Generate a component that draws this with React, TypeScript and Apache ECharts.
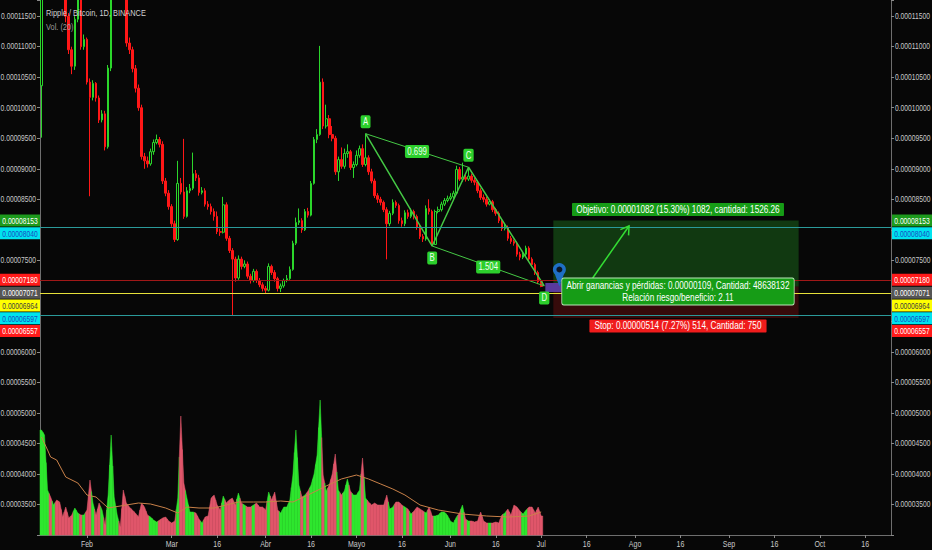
import React, { useEffect, useRef } from "react";
import * as echarts from "echarts";

const FONT = '"Liberation Sans", Arial, sans-serif';
const BG = "#070707";
const SQUEEZE = 0.78; // the reference's texts are horizontally condensed

// ---- categories (daily, Binance XRP/BTC) ----
const START = Date.UTC(2018, 0, 17);
const DAY_COUNT = 281;
const categories: string[] = Array.from({ length: DAY_COUNT }, (_, i) =>
  new Date(START + i * 86400000).toISOString().slice(0, 10)
);

const xTickLabels: [string, string][] = [
  ["2018-02-01", "Feb"], ["2018-03-01", "Mar"], ["2018-03-16", "16"], ["2018-04-01", "Abr"],
  ["2018-04-16", "16"], ["2018-05-01", "Mayo"], ["2018-05-16", "16"], ["2018-06-01", "Jun"],
  ["2018-06-16", "16"], ["2018-07-01", "Jul"], ["2018-07-16", "16"], ["2018-08-01", "Ago"],
  ["2018-08-16", "16"], ["2018-09-01", "Sep"], ["2018-09-16", "16"], ["2018-10-01", "Oct"],
  ["2018-10-16", "16"],
];

// price axis in satoshi (1e-8 BTC)
const PRICE_MIN = 3000;
const PRICE_MAX = 11765;
const PRICE_STEP = 500;
const priceTicks: number[] = [3500, 4000, 4500, 5000, 5500, 6000, 6500, 7000, 7500, 8000, 8500, 9000, 9500, 10000, 10500, 11000, 11500];

// [open, close, low, high] in satoshi
const candles: number[][] = [
  [10360,12150,9510,12300],[12150,12500,12000,12700],[12500,12900,12400,13100],[12900,12600,12400,13000],
  [12600,12750,12500,12900],[12750,12400,12250,12800],[12400,12300,12150,12500],[12300,12050,11950,12400],
  [12050,11500,11400,12100],[11500,10950,10880,11550],
  [10950,10680,10550,11000],[10680,11450,10620,11500],[11450,11900,11400,12050],[11900,11000,10950,11950],
  [11000,11120,10950,11200],[11120,10420,10380,11150],[10420,10170,8550,10480],[10170,10400,10120,10450],
  [10400,10160,10100,10420],[10160,9800,9750,10200],
  [9800,9900,9760,9960],[9900,9360,9300,9950],[9360,10650,9330,10700],[10650,11900,10600,12000],
  [11900,12200,11850,12400],[12200,12400,12100,12600],[12400,12300,12150,12500],[12300,12100,11950,12400],
  [12100,11060,11000,12150],[11060,10950,10880,11150],
  [10950,10640,10580,11000],[10640,10320,10250,10700],[10320,10000,9950,10380],[10000,9200,9150,10050],
  [9200,9130,9000,9260],[9130,9080,9020,9200],[9080,9280,9050,9330],[9280,9430,9230,9480],
  [9430,9480,9400,9560],[9480,9400,9350,9520],
  [9400,8800,8750,9450],[8800,8600,8550,8850],[8600,8380,8330,8650],[8380,8100,8050,8420],
  [8100,7840,7800,8150],[7840,8760,7820,9130],[8760,8620,8580,8850],[8620,8220,8180,9490],
  [8220,8640,8200,8700],[8640,8680,8600,8750],
  [8680,8920,8650,9265],[8920,8850,8800,8980],[8850,8610,8560,8900],[8610,8640,8580,8700],
  [8640,8420,8380,8680],[8420,8380,8330,8470],[8380,8300,8250,8430],[8300,8220,8150,8350],
  [8220,7970,7930,8300],[7970,7960,7900,8020],
  [7960,8410,7940,8540],[8410,7860,7820,8450],[7860,7660,7620,7900],[7660,7520,6597,7700],
  [7520,7210,7150,7560],[7210,7520,7180,7580],[7520,7400,7350,7560],[7400,7440,7370,7500],
  [7440,7240,7200,7480],[7240,7170,7120,7280],
  [7170,7320,7140,7360],[7320,7170,7130,7350],[7170,7100,7060,7210],[7100,7040,6990,7140],
  [7040,7010,6960,7080],[7010,7400,6990,7450],[7400,7300,7260,7430],[7300,7200,7150,7340],
  [7200,7040,6990,7230],[7040,7080,6980,7120],
  [7080,7170,7050,7200],[7170,7200,7140,7260],[7200,7350,7180,7400],[7350,7780,7330,7820],
  [7780,8120,7750,8200],[8120,8150,8080,8350],[8150,8000,7950,8190],[8000,8300,7980,8340],
  [8300,8240,8200,8360],[8240,8760,8220,8800],
  [8760,9480,8740,9520],[9480,9560,9420,9650],[9560,10420,9540,11013],[10420,9700,9650,10480],
  [9700,9820,9660,10050],[9820,9560,9500,9880],[9560,9500,9450,9700],[9500,8950,8900,9540],
  [8950,9150,8800,9200],[9150,9040,9000,9350],
  [9040,9250,9000,9330],[9250,9280,9180,9400],[9280,9020,8980,9310],[9020,9070,8850,9120],
  [9070,9220,9040,9300],[9220,9330,9180,9380],[9330,9070,9030,9400],[9070,9180,9040,9575],
  [9180,8950,8900,9220],[8950,8800,8760,9000],
  [8800,8560,8520,8840],[8560,8500,8440,8600],[8500,8450,8400,8540],[8450,8330,8290,8480],
  [8330,8100,7516,8370],[8100,8270,8060,8310],[8270,8450,8240,8500],[8450,8400,8360,8480],
  [8400,8150,8100,8430],[8150,8100,8050,8200],
  [8100,8280,8060,8320],[8280,8220,8180,8330],[8220,8300,8190,8350],[8300,8220,8170,8330],
  [8220,8040,8000,8250],[8040,7890,7850,8080],[7890,7850,7800,7930],[7850,8350,7820,8400],
  [8350,8300,8250,8500],[8300,7760,7734,8330],
  [7760,8300,7750,8330],[8300,8330,8270,8380],[8330,8420,8300,8460],[8420,8480,8390,8520],
  [8480,8510,8450,8560],[8510,8540,8480,8600],[8540,8600,8510,8640],[8600,8990,8580,9050],
  [8990,8830,8800,9030],[8830,8860,8790,9100],
  [8860,8830,8790,8900],[8830,8880,8800,9025],[8880,8810,8770,8920],[8810,8780,8730,8850],
  [8780,8640,8600,8810],[8640,8530,8490,8680],[8530,8500,8450,8580],[8500,8420,8380,8540],
  [8420,8460,8400,8500],[8460,8330,8290,8490],
  [8330,8270,8230,8360],[8270,8150,8110,8300],[8150,8020,7980,8180],[8020,8040,7990,8110],
  [8040,7860,7820,8070],[7860,7810,7770,7900],[7810,7780,7740,7840],[7780,7600,7560,7810],
  [7600,7550,7500,7640],[7550,7600,7520,7640],
  [7600,7700,7570,7740],[7700,7520,7480,7730],[7520,7430,7390,7550],[7430,7300,7260,7460],
  [7300,7150,7110,7330],[7150,7071,7060,7180],
];

// volume (estimated, x100k XRP)
const volumes: number[] = [
  105,100,45,38,30,35,33,18,28,17, 20,27,22,20,20,25,55,32,20,32,
  25,10,40,100,38,20,8,45,32,28, 25,22,18,32,28,20,18,15,13,15,
  17,18,14,12,14,37,119,52,37,23, 23,22,16,12,18,19,37,40,30,25,
  39,32,35,37,30,42,32,30,28,28, 30,32,28,28,25,43,35,43,25,22,
  28,28,35,60,105,50,38,40,44,50, 61,80,135,60,44,50,61,81,45,40,
  44,56,44,40,40,45,77,37,33,30, 32,30,
  30,30,40,26,28,33,33,30,28,26,21,24,28,26, 24,
  22,28,19,19,20,23,23,20,14,12,18,22,30,16,14,14,13,14,23,14,12,12,12,13,12,20,
  22,26,20,30,28,24,21,25,28,28,22,28,19,
];
const VOLUME_AXIS_MAX = 535;

// Vol MA(20): [dayIndex, value]
const volumeMA: number[][] = [
  [0,98],[2,85],[3,78],[5,75],[8,58],[12,52],[15,40],[18,38],[22,27],[24,28],[28,30],[32,32],
  [36,31],[41,27],[45,22],[48,28],[52,27],[57,27],[61,30],[65,33],[70,33],[74,33],[79,34],
  [83,33],[88,40],[94,49],[99,56],[104,60],[108,56],[112,51],[116,46],[120,40],[125,30],
  [131,25],[139,21],[147,19],[154,18],[161,19],[165,23],
];

const priceTags = [
  { value: 8153, bg: "#1d9a1d", fg: "#ffffff" },
  { value: 8040, bg: "#00e3ee", fg: "#1a4bc4" },
  { value: 7180, bg: "#ff1a1a", fg: "#ffffff" },
  { value: 7071, bg: "#555555", fg: "#ffffff" },
  { value: 6964, bg: "#ffff00", fg: "#404040" },
  { value: 6597, bg: "#00e3ee", fg: "#1a4bc4" },
  { value: 6557, bg: "#ff1a1a", fg: "#ffffff" },
];

const hLines = [
  { value: 8040, color: "#2a9a9a" },
  { value: 7180, color: "#a01818" },
  { value: 6964, color: "#e6e03a" },
  { value: 6597, color: "#2a9a9a" },
];

const patternPoints = [
  { name: "A", idx: 107, value: 9575, below: false },
  { name: "B", idx: 129, value: 7734, below: true },
  { name: "C", idx: 141, value: 9025, below: false },
  { name: "D", idx: 166, value: 7080, below: true },
];
const patternRatios = [
  { text: "0.699", from: 0, to: 2 },
  { text: "1.504", from: 1, to: 3 },
];

const position = { startIdx: 169, endIdx: 250, entry: 7071, target: 8153, stop: 6557 };
const positionTexts = {
  target: "Objetivo: 0.00001082 (15.30%) 1082, cantidad: 1526.26",
  open: "Abrir ganancias y pérdidas: 0.00000109, Cantidad: 48638132",
  ratio: "Relación riesgo/beneficio: 2.11",
  stop: "Stop: 0.00000514 (7.27%) 514, Cantidad: 750",
};
const arrowFrom = [182, 7211];
const arrowTo = [194, 8063];
const pinTip = [171, 7071];

const titleText = "Ripple / Bitcoin, 1D, BINANCE";
const volText = "Vol. (20)";

const tickMap = new Map<string, string>(xTickLabels);
const tickFn = (_i: number, v: string) => tickMap.has(v);
const fmtPrice = (v: number) => (v / 1e8).toFixed(8);

function buildOption(): any {
  const yBase = {
    type: "value",
    min: PRICE_MIN,
    max: PRICE_MAX,
    interval: PRICE_STEP,
    splitLine: { show: false },
    axisLine: { show: true, lineStyle: { color: "#6e6e6e" } },
    axisTick: { show: true, length: 3, lineStyle: { color: "#8a8a8a" } },
    axisLabel: { show: false },
  };
  const volData = volumes.map((v, i) => [
    i, v, i > 0 ? volumes[i - 1] : v, i < volumes.length - 1 ? volumes[i + 1] : v,
    candles[i][1] >= candles[i][0] ? 1 : 0,
  ]);
  const pAB = patternPoints.map((p) => [p.idx, p.value]);
  return {
    animation: false,
    backgroundColor: BG,
    grid: { left: 40, right: 41, top: 0, bottom: 15, containLabel: false, outerBoundsMode: "none" },
    xAxis: {
      type: "category",
      data: categories,
      boundaryGap: true,
      axisLine: { lineStyle: { color: "#6e6e6e" } },
      axisTick: { show: true, interval: tickFn, length: 3, alignWithLabel: true, lineStyle: { color: "#8a8a8a" } },
      axisLabel: { show: false },
      splitLine: { show: false },
    },
    yAxis: [
      { ...yBase, position: "left" },
      { ...yBase, position: "right" },
      { type: "value", min: 0, max: VOLUME_AXIS_MAX, show: false },
    ],
    series: [
      {
        type: "custom",
        name: "Vol",
        yAxisIndex: 2,
        encode: { x: 0, y: 1 },
        data: volData,
        renderItem: (_p: any, api: any) => {
          const i = api.value(0);
          const v = api.value(1);
          const pv = api.value(2);
          const nv = api.value(3);
          const up = api.value(4);
          const c = api.coord([i, v]);
          const base = api.coord([i, 0])[1];
          const w = api.size([1, 0])[0];
          const yl = api.coord([i, (pv + v) / 2])[1];
          const yr = api.coord([i, (nv + v) / 2])[1];
          const xl = c[0] - w / 2;
          const xr = c[0] + w / 2;
          const col = up ? "#2ee62e" : "#e0566a";
          return {
            type: "polygon",
            shape: { points: [[xl, base], [xl, yl], [c[0], c[1]], [xr, yr], [xr, base]] },
            style: { fill: col, stroke: col, lineWidth: 0.5 },
          };
        },
        z: 1,
      },
      {
        type: "line",
        name: "VolMA",
        yAxisIndex: 2,
        data: volumeMA,
        symbol: "none",
        lineStyle: { color: "#c98149", width: 1 },
        z: 2,
      },
      {
        type: "candlestick",
        name: "XRPBTC",
        yAxisIndex: 0,
        data: candles,
        barWidth: "70%",
        clip: true,
        itemStyle: {
          color: BG,
          color0: "#ff1717",
          borderColor: "#2bd62b",
          borderColor0: "#ff1717",
          borderWidth: 1,
        },
        markArea: {
          silent: true,
          data: [
            [
              { xAxis: categories[position.startIdx], yAxis: position.entry, itemStyle: { color: "rgba(38,160,38,0.33)" } },
              { xAxis: categories[position.endIdx], yAxis: position.target },
            ],
            [
              { xAxis: categories[position.startIdx], yAxis: position.stop, itemStyle: { color: "rgba(190,25,25,0.26)" } },
              { xAxis: categories[position.endIdx], yAxis: position.entry },
            ],
          ],
        },
        z: 3,
      },
      {
        type: "line",
        name: "ABCD",
        yAxisIndex: 0,
        data: pAB,
        symbol: "none",
        lineStyle: { color: "#45c845", width: 1.5 },
        z: 4,
      },
      ...patternRatios.map((r) => ({
        type: "line",
        yAxisIndex: 0,
        data: [pAB[r.from], pAB[r.to]],
        symbol: "none",
        lineStyle: { color: "#45c845", width: 1 },
        z: 4,
      })),
    ],
  };
}

function buildGraphics(chart: any): any[] {
  const toPx = (i: number, v: number): number[] => chart.convertToPixel({ seriesIndex: 2 }, [i, v]);
  const g: any[] = [];
  const txt = (x: number, y: number, text: string, extra: any = {}, z = 100, sx = SQUEEZE) => ({
    type: "text",
    x,
    y,
    z,
    scaleX: sx,
    style: { text, fontFamily: FONT, fontSize: 9, fill: "#ffffff", align: "center", verticalAlign: "middle", ...extra },
  });

  // horizontal level lines across the plot
  hLines.forEach((h) => {
    const y = Math.round(toPx(0, h.value)[1]) + 0.5;
    g.push({ type: "line", z: 5, silent: true, shape: { x1: 40, y1: y, x2: 891, y2: y }, style: { stroke: h.color, lineWidth: 1 } });
  });

  // price axis labels (both sides), hidden where the price tags cover them
  priceTicks.forEach((v) => {
    if (priceTags.some((t) => Math.abs(t.value - v) < 200)) return;
    const y = toPx(0, v)[1];
    g.push(txt(36, y, fmtPrice(v), { align: "right", fill: "#c9c9c9", fontSize: 8.6 }, 50));
    g.push(txt(895, y, fmtPrice(v), { align: "left", fill: "#c9c9c9", fontSize: 8.6 }, 50));
  });
  // time axis labels
  const yAxisBottom = toPx(0, PRICE_MIN)[1];
  xTickLabels.forEach(([d, label]) => {
    const i = categories.indexOf(d);
    const x = toPx(i, PRICE_MIN)[0];
    g.push(txt(x, yAxisBottom + 9, label, { fill: "#c9c9c9", fontSize: 9 }, 50));
  });

  // title
  g.push(txt(46, 13, titleText, { align: "left", fill: "#d2d2d2", fontSize: 9.5 }));
  g.push(txt(46, 27, volText, { align: "left", fill: "#9c9c9c", fontSize: 9.5 }));

  // position tool
  const xL = toPx(position.startIdx, position.entry)[0];
  const xR = toPx(position.endIdx, position.entry)[0];
  const cx = (xL + xR) / 2;
  const yT = toPx(position.startIdx, position.target)[1];
  const yE = toPx(position.startIdx, position.entry)[1];
  const yS = toPx(position.startIdx, position.stop)[1];

  // arrow
  const a0 = toPx(arrowFrom[0], arrowFrom[1]);
  const a1 = toPx(arrowTo[0], arrowTo[1]);
  const dx = a1[0] - a0[0];
  const dy = a1[1] - a0[1];
  const len = Math.hypot(dx, dy);
  const ux = dx / len, uy = dy / len;
  const nx = -uy, ny = ux;
  g.push({ type: "line", z: 99, shape: { x1: a0[0], y1: a0[1], x2: a1[0], y2: a1[1] }, style: { stroke: "#33dd33", lineWidth: 1.5 } });
  g.push({
    type: "polyline", z: 99,
    shape: { points: [[a1[0] - ux * 8 + nx * 5, a1[1] - uy * 8 + ny * 5], [a1[0], a1[1]], [a1[0] - ux * 8 - nx * 5, a1[1] - uy * 8 - ny * 5]] },
    style: { stroke: "#33dd33", lineWidth: 1.5, fill: null },
  });

  // handle + pin
  g.push({ type: "rect", z: 98, shape: { x: xL - 8, y: yE - 3.5, width: 16, height: 9 }, style: { fill: "#5a3a9c" } });
  const pt = toPx(pinTip[0], pinTip[1]);
  g.push({ type: "polygon", z: 99, shape: { points: [[pt[0] - 5.5, pt[1] - 15], [pt[0] + 5.5, pt[1] - 15], [pt[0], pt[1]]] }, style: { fill: "#1f6fc5" } });
  g.push({ type: "circle", z: 99, shape: { cx: pt[0], cy: pt[1] - 17, r: 6.5 }, style: { fill: "#1f6fc5" } });
  g.push({ type: "circle", z: 99, shape: { cx: pt[0], cy: pt[1] - 17, r: 3 }, style: { fill: "#0b1626" } });

  const PS = 0.82;
  g.push(txt(cx + 2, yT - 11, positionTexts.target, { fontSize: 10, backgroundColor: "#169c16", padding: [2, 5, 1, 5], borderRadius: 1 }, 100, PS));
  g.push(txt(cx + 2, yE + 5, positionTexts.open + "\n" + positionTexts.ratio, {
    fontSize: 10, backgroundColor: "#169c16", borderColor: "#b8e8b8", borderWidth: 1, padding: [2, 5, 1, 5], borderRadius: 2, lineHeight: 11.5,
  }, 100, PS));
  g.push(txt(cx + 2, yS + 8, positionTexts.stop, { fontSize: 10, backgroundColor: "#f01c1c", padding: [2, 6, 1, 6], borderRadius: 1 }, 100, PS));

  // pattern labels
  const pp = patternPoints.map((p) => toPx(p.idx, p.value));
  patternPoints.forEach((p, k) => {
    g.push(txt(pp[k][0], pp[k][1] + (p.below ? 12 : -12), p.name, {
      fontSize: 10, backgroundColor: "#2ccf2c", fill: "#eeffee", padding: [2, 3, 1, 3], borderRadius: 2,
    }));
  });
  patternRatios.forEach((r) => {
    const m0 = pp[r.from], m1 = pp[r.to];
    g.push(txt((m0[0] + m1[0]) / 2, (m0[1] + m1[1]) / 2 + 1, r.text, {
      fontSize: 10, backgroundColor: "#2ccf2c", fill: "#eeffee", padding: [2, 3, 1, 3], borderRadius: 2,
    }));
  });

  // price tags on both axes
  const sorted = [...priceTags].sort((a, b) => b.value - a.value);
  let prevY = -Infinity;
  sorted.forEach((t) => {
    let y = toPx(0, t.value)[1];
    if (y < prevY + 12.8) y = prevY + 12.8;
    prevY = y;
    for (const [x, w] of [[0, 40], [892, 40]]) {
      g.push({ type: "rect", z: 100, shape: { x, y: y - 6, width: w, height: 12 }, style: { fill: t.bg } });
      g.push(txt(x + w / 2, y + 0.5, fmtPrice(t.value), { fill: t.fg, fontSize: 8.6 }, 101));
    }
  });
  return g;
}

export default function App() {
  const ref = useRef<HTMLDivElement>(null);
  useEffect(() => {
    const el = ref.current!;
    const chart = echarts.init(el, null, { renderer: "svg" });
    chart.setOption(buildOption());
    chart.setOption({ graphic: buildGraphics(chart) });
    return () => chart.dispose();
  }, []);
  return (
    <div
      ref={ref}
      style={{ position: "fixed", left: 0, top: 0, width: 932, height: 550, background: BG }}
    />
  );
}
